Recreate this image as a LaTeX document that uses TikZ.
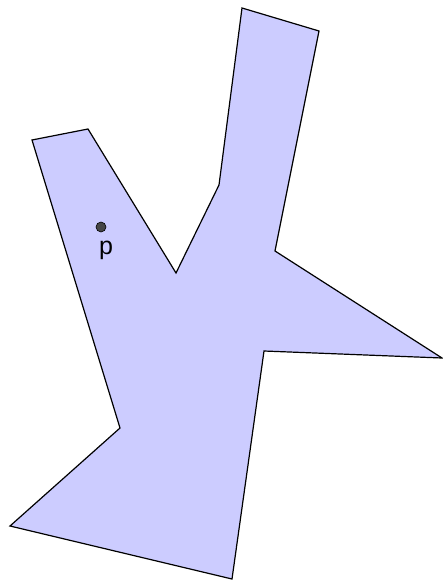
\documentclass[tikz,border=0pt]{standalone}
\usepackage{fontspec}
\setmainfont{Liberation Sans}
\definecolor{polyfill}{RGB}{204,204,255}
\definecolor{dotfill}{RGB}{70,70,70}
\begin{document}
\begin{tikzpicture}[x=1pt,y=-1pt,
  poly/.style={fill=polyfill,draw=black,line width=1.2pt,line join=miter},
  ptdot/.style={circle,fill=dotfill,draw=black,line width=0.6pt,inner sep=0pt,minimum size=10pt},
  ptlabel/.style={font=\fontsize{25}{28}\selectfont,inner sep=0pt}]
\useasboundingbox (0,0) rectangle (443,580);
\coordinate (v1) at (32,140);
\coordinate (v2) at (88,129);
\coordinate (v3) at (176,273);
\coordinate (v4) at (219,185);
\coordinate (v5) at (242,8);
\coordinate (v6) at (319,31);
\coordinate (v7) at (275,251);
\coordinate (v8) at (442,358);
\coordinate (v9) at (264,351);
\coordinate (v10) at (232,579);
\coordinate (v11) at (10,526);
\coordinate (v12) at (120,428);
\draw[poly] (v1) -- (v2) -- (v3) -- (v4) -- (v5) -- (v6) -- (v7) -- (v8) -- (v9) -- (v10) -- (v11) -- (v12) -- cycle;
\node[ptdot] (p) at (101,227) {};
\node[ptlabel,anchor=north] (plabel) at (106,241) {p};
\end{tikzpicture}
\end{document}
